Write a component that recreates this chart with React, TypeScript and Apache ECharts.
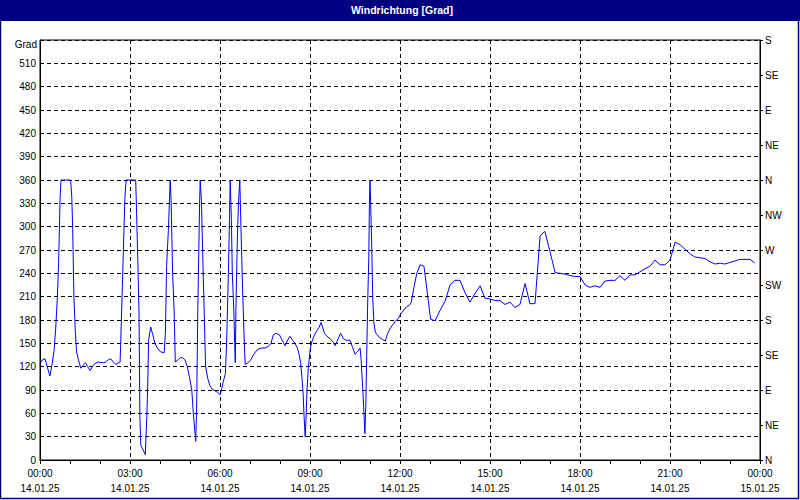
import React, { useEffect, useRef } from "react";
import * as echarts from "echarts";

const TITLE = "Windrichtung [Grad]";
const Y_UNIT = "Grad";
const dirLabels = ["N", "NE", "E", "SE", "S", "SW", "W", "NW", "N", "NE", "E", "SE", "S"];
const dayLabels = ["14.01.25", "15.01.25"];

const hours = [
  0, 0.09, 0.17, 0.24, 0.33, 0.4, 0.47, 0.52, 0.58, 0.62, 0.67, 0.7, 1.02, 1.06, 1.09, 1.13, 1.18, 1.22, 1.28, 1.36,
  1.44, 1.52, 1.59, 1.67, 1.76, 1.83, 1.94, 2.11, 2.19, 2.28, 2.36, 2.44, 2.53, 2.67, 2.69, 2.76, 2.83, 2.87, 3.19, 3.22,
  3.26, 3.3, 3.33, 3.36, 3.51, 3.56, 3.59, 3.62, 3.69, 3.76, 3.83, 3.91, 4.02, 4.14, 4.18, 4.22, 4.28, 4.34, 4.37, 4.42,
  4.47, 4.51, 4.61, 4.69, 4.76, 4.83, 4.91, 4.98, 5.06, 5.11, 5.17, 5.19, 5.22, 5.26, 5.29, 5.32, 5.34, 5.38, 5.41, 5.44,
  5.48, 5.52, 5.59, 5.67, 5.74, 5.83, 5.92, 6.01, 6.06, 6.11, 6.18, 6.22, 6.28, 6.32, 6.34, 6.38, 6.41, 6.46, 6.49, 6.51,
  6.53, 6.58, 6.62, 6.66, 6.7, 6.76, 6.81, 6.84, 6.94, 7.03, 7.11, 7.2, 7.3, 7.39, 7.5, 7.61, 7.7, 7.78, 7.87, 7.98,
  8.07, 8.17, 8.24, 8.33, 8.42, 8.5, 8.58, 8.63, 8.69, 8.73, 8.77, 8.8, 8.82, 8.84, 8.87, 8.9, 8.94, 9.0, 9.06, 9.13,
  9.22, 9.31, 9.37, 9.42, 9.48, 9.56, 9.67, 9.76, 9.84, 10.02, 10.11, 10.2, 10.33, 10.41, 10.5, 10.58, 10.67, 10.7, 10.73, 10.76,
  10.79, 10.81, 10.83, 10.86, 10.89, 10.92, 10.96, 10.98, 11.0, 11.02, 11.06, 11.09, 11.13, 11.18, 11.24, 11.33, 11.42, 11.51, 11.59, 11.67,
  11.76, 11.84, 11.94, 12.03, 12.13, 12.22, 12.31, 12.37, 12.47, 12.56, 12.67, 12.8, 13.02, 13.17, 13.33, 13.5, 13.67, 13.83, 14.0, 14.17,
  14.33, 14.5, 14.67, 14.83, 15.0, 15.17, 15.33, 15.5, 15.67, 15.83, 16.0, 16.17, 16.33, 16.5, 16.67, 16.83, 17.0, 17.17, 17.33, 17.5,
  17.67, 17.83, 18.0, 18.17, 18.33, 18.5, 18.67, 18.83, 19.0, 19.17, 19.33, 19.5, 19.67, 19.83, 20.0, 20.17, 20.33, 20.5, 20.67, 20.83,
  21.0, 21.17, 21.33, 21.5, 21.67, 21.83, 22.0, 22.17, 22.33, 22.5, 22.67, 22.83, 23.0, 23.17, 23.33, 23.5, 23.67, 23.83,
];

const degrees = [
  124, 129, 130, 120, 108, 122, 141, 167, 210, 253, 338, 360, 360, 338, 296, 210, 163, 139, 129, 118,
  122, 125, 120, 115, 121, 124, 126, 125, 126, 129, 130, 126, 123, 126, 150, 244, 338, 360, 360, 317,
  257, 189, 56, 19, 7, 56, 94, 154, 171, 161, 150, 144, 139, 138, 163, 249, 296, 360, 334, 240,
  193, 126, 129, 132, 131, 129, 120, 107, 90, 60, 34, 24, 64, 193, 261, 330, 360, 334, 287, 240,
  180, 120, 105, 95, 91, 89, 87, 84, 92, 101, 111, 150, 240, 317, 360, 309, 240, 193, 150, 125,
  193, 287, 334, 360, 296, 210, 150, 123, 125, 129, 135, 140, 143, 144, 144, 146, 150, 161, 163, 161,
  154, 147, 153, 159, 154, 150, 144, 137, 124, 107, 86, 58, 43, 30, 56, 90, 116, 141, 152, 159,
  166, 171, 177, 171, 163, 159, 156, 152, 147, 163, 156, 154, 154, 146, 136, 139, 144, 131, 111, 90,
  67, 51, 34, 69, 133, 197, 261, 328, 360, 334, 270, 210, 176, 164, 161, 157, 155, 153, 163, 169,
  174, 178, 182, 188, 193, 197, 199, 202, 223, 240, 251, 249, 181, 179, 192, 204, 225, 231, 231, 215,
  203, 214, 224, 208, 207, 205, 205, 200, 203, 196, 200, 227, 201, 201, 288, 294, 268, 241, 240, 239,
  237, 236, 236, 225, 222, 224, 222, 230, 231, 231, 237, 231, 238, 238, 242, 246, 249, 257, 251, 251,
  257, 280, 277, 271, 265, 261, 260, 259, 255, 252, 253, 252, 254, 256, 258, 258, 258, 253,
];

const FONT = "Liberation Sans";

export default function App() {
  const ref = useRef<HTMLDivElement>(null);
  useEffect(() => {
    if (!ref.current) return;
    const chart = echarts.init(ref.current, null, { renderer: "svg" });
    const data = hours.map((h, i) => [h, degrees[i]]);
    const dash = { color: "#000", width: 1, type: [4, 3] as any };
    chart.setOption({
      animation: false,
      backgroundColor: "#ffffff",
      textStyle: { fontFamily: FONT },
      grid: { left: 40, right: 40, top: 40, bottom: 40, show: true, borderColor: "#000", borderWidth: 1, backgroundColor: "transparent" },
      graphic: [
        { type: "rect", left: 0, top: 0, shape: { x: 0, y: 0, width: 800, height: 21 }, style: { fill: "#000080" }, z: 10 },
        {
          type: "text", x: 402, y: 10, z: 11,
          style: { text: TITLE, fill: "#ffffff", font: `bold 10.5px "${FONT}"`, textAlign: "center", textVerticalAlign: "middle" },
        },
        {
          type: "text", x: 37, y: 44, z: 11,
          style: { text: Y_UNIT, fill: "#000", font: `10px "${FONT}"`, textAlign: "right", textVerticalAlign: "middle" },
        },
        {
          type: "rect", z: 12, silent: true,
          shape: { x: 0.5, y: 0.5, width: 798, height: 498 },
          style: { fill: "none", stroke: "#000080", lineWidth: 1.5 },
        },
      ],
      xAxis: {
        type: "value", min: 0, max: 24, interval: 3,
        axisLine: { show: true, lineStyle: { color: "#000", width: 1 } },
        axisTick: { show: true, length: 4, lineStyle: { color: "#000" } },
        minorTick: { show: true, splitNumber: 3, length: 4, lineStyle: { color: "#000" } },
        splitLine: { show: true, lineStyle: dash },
        axisLabel: {
          color: "#000", fontSize: 10, fontFamily: FONT, margin: 6, lineHeight: 15,
          showMinLabel: true, showMaxLabel: true,
          formatter: (v: number) => {
            const hh = String(v % 24).padStart(2, "0");
            return `${hh}:00\n${v >= 24 ? dayLabels[1] : dayLabels[0]}`;
          },
        },
      },
      yAxis: [
        {
          type: "value", min: 0, max: 540, interval: 30, position: "left",
          axisLine: { show: true, lineStyle: { color: "#000", width: 1 } },
          axisTick: { show: false },
          splitLine: { show: true, lineStyle: dash },
          axisLabel: {
            color: "#000", fontSize: 10, fontFamily: FONT, margin: 4,
            formatter: (v: number) => (v >= 540 ? "" : String(v)),
          },
        },
        {
          type: "value", min: 0, max: 540, interval: 45, position: "right",
          axisLine: { show: true, lineStyle: { color: "#000", width: 1 } },
          axisTick: { show: true, length: 3, lineStyle: { color: "#000" } },
          splitLine: { show: false },
          axisLabel: {
            color: "#000", fontSize: 10, fontFamily: FONT, margin: 5,
            formatter: (v: number) => dirLabels[Math.round(v / 45)] ?? "",
          },
        },
      ],
      series: [
        {
          type: "line", data, yAxisIndex: 0, showSymbol: false, symbol: "none",
          lineStyle: { color: "#0000ff", width: 1 }, z: 5,
        },
      ],
    });
    return () => chart.dispose();
  }, []);
  return <div ref={ref} style={{ position: "fixed", left: 0, top: 0, width: 800, height: 500 }} />;
}
